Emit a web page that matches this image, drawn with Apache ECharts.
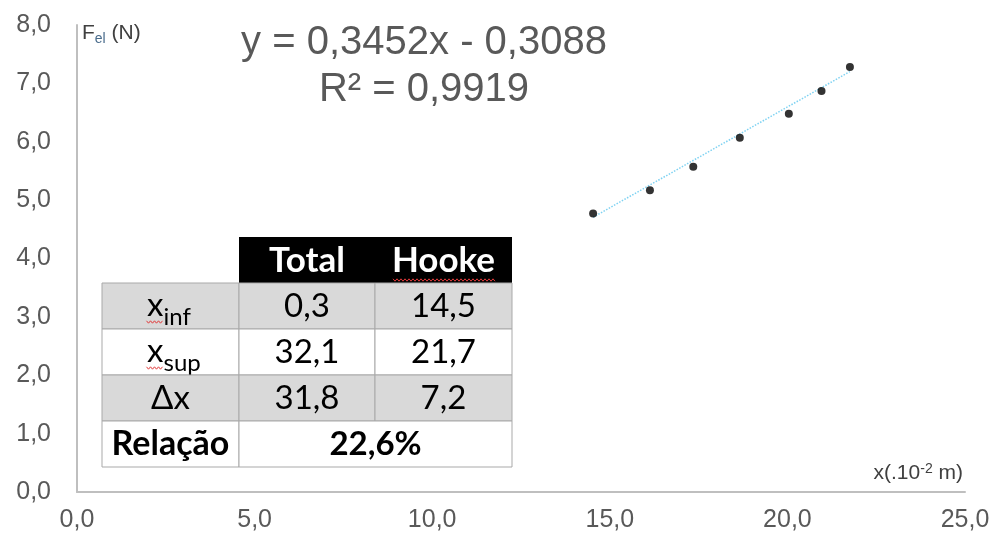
<!DOCTYPE html>
<html><head><meta charset="utf-8">
<script src="https://cdn.jsdelivr.net/npm/echarts@6/dist/echarts.min.js"></script>
<style>html,body{margin:0;padding:0;background:#fff}#c{width:998px;height:538px}</style>
</head><body><div id="c"></div>
<script>
// ---- data ----
const xValues = [14.53, 16.13, 17.35, 18.66, 20.04, 20.96, 21.76];
const yValues = [4.77, 5.17, 5.57, 6.07, 6.48, 6.87, 7.28];
const trendSlope = 0.3452;
const trendIntercept = -0.3088;
const eqLine1 = 'y = 0,3452x - 0,3088';
const eqLine2 = 'R² = 0,9919';
const xAxisMin = 0, xAxisMax = 25, xAxisStep = 5;
const yAxisMin = 0, yAxisMax = 8, yAxisStep = 1;
const tableHeader = ['Total', 'Hooke'];
const rowMain = ['x', 'x', 'Δx', 'Relação'];
const rowSub = ['inf', 'sup', '', ''];
const totalValues = ['0,3', '32,1', '31,8'];
const hookeValues = ['14,5', '21,7', '7,2'];
const relacao = '22,6%';

// ---- helpers ----
const fmt = v => v.toFixed(1).replace('.', ',');
const scatterData = xValues.map((x, i) => [x, yValues[i]]);
const tx0 = Math.min(...xValues), tx1 = Math.max(...xValues);
const trendData = [[tx0, trendSlope * tx0 + trendIntercept], [tx1, trendSlope * tx1 + trendIntercept]];

// ---- table graphics ----
const T = { left: 102, top: 237, colW: [137, 136, 137], headH: 46, rowH: 46 };
const colX = [T.left, T.left + T.colW[0], T.left + T.colW[0] + T.colW[1]];
const tableRight = colX[2] + T.colW[2];
const tFont = 'Lato, "Open Sans", sans-serif';
const g = [];
g.push({ type: 'rect', shape: { x: colX[1], y: T.top, width: tableRight - colX[1], height: T.headH }, style: { fill: '#000' } });
tableHeader.forEach((h, j) => g.push({ type: 'text', x: colX[j + 1] + T.colW[j + 1] / 2, y: T.top + T.headH / 2 + 1,
  style: { text: h, fill: '#fff', font: 'bold 35px ' + tFont, align: 'center', verticalAlign: 'middle' } }));
function zig(x0, x1, y) {
  const pts = []; let up = true;
  for (let x = x0; x <= x1; x += 2) { pts.push([x, up ? y - 1.2 : y + 1.2]); up = !up; }
  return { type: 'polyline', shape: { points: pts }, style: { stroke: '#e23b3b', lineWidth: 1, fill: null } };
}
g.push(zig(393, 496, 280));
for (let i = 0; i < 4; i++) {
  const y = T.top + T.headH + i * T.rowH;
  const fill = i % 2 === 0 ? '#d9d9d9' : '#ffffff';
  const stroke = '#a9a9a9';
  if (i < 3) {
    for (let j = 0; j < 3; j++) g.push({ type: 'rect', shape: { x: colX[j], y: y, width: T.colW[j], height: T.rowH }, style: { fill, stroke, lineWidth: 1 } });
  } else {
    g.push({ type: 'rect', shape: { x: colX[0], y: y, width: T.colW[0], height: T.rowH }, style: { fill, stroke, lineWidth: 1 } });
    g.push({ type: 'rect', shape: { x: colX[1], y: y, width: tableRight - colX[1], height: T.rowH }, style: { fill, stroke, lineWidth: 1 } });
  }
  const cy = y + T.rowH / 2;
  const cx0 = colX[0] + T.colW[0] / 2;
  if (rowSub[i]) {
    g.push({ type: 'text', x: cx0 - 7, y: cy - 1, style: { text: rowMain[i], fill: '#000', font: '33px ' + tFont, align: 'right', verticalAlign: 'middle' } });
    g.push({ type: 'text', x: cx0 - 7, y: cy + 11, style: { text: rowSub[i], fill: '#000', font: '24px ' + tFont, align: 'left', verticalAlign: 'middle' } });
    g.push(zig(cx0 - 24, cx0 - 7, cy + 16));
    g.push(zig(cx0 - 7, cx0 + (i === 0 ? 21 : 30), cy + 27));
  } else {
    g.push({ type: 'text', x: cx0, y: cy, style: { text: rowMain[i], fill: '#000', font: (i === 3 ? 'bold 34px ' : '33px ') + tFont, align: 'center', verticalAlign: 'middle' } });
  }
  if (i < 3) {
    g.push({ type: 'text', x: colX[1] + T.colW[1] / 2, y: cy, style: { text: totalValues[i], fill: '#000', font: '33px ' + tFont, align: 'center', verticalAlign: 'middle' } });
    g.push({ type: 'text', x: colX[2] + T.colW[2] / 2, y: cy, style: { text: hookeValues[i], fill: '#000', font: '33px ' + tFont, align: 'center', verticalAlign: 'middle' } });
  } else {
    g.push({ type: 'text', x: (colX[1] + tableRight) / 2, y: cy, style: { text: relacao, fill: '#000', font: 'bold 33px ' + tFont, align: 'center', verticalAlign: 'middle' } });
  }
}
// equation
g.push({ type: 'text', x: 424, y: 43, style: { text: eqLine1, fill: '#595959', font: '40px "Liberation Sans", Arial, sans-serif', align: 'center', verticalAlign: 'middle' } });
g.push({ type: 'text', x: 424, y: 90, style: { text: eqLine2, fill: '#595959', font: '40px "Liberation Sans", Arial, sans-serif', align: 'center', verticalAlign: 'middle' } });

const labelStyle = { color: '#595959', fontSize: 25, fontFamily: '"Liberation Sans", Arial, sans-serif' };
const chart = echarts.init(document.getElementById('c'), null, { renderer: 'canvas' });
chart.setOption({
  animation: false,
  backgroundColor: '#fff',
  textStyle: { fontFamily: '"Liberation Sans", Arial, sans-serif' },
  grid: { left: 77, right: 33, top: 25, bottom: 46, containLabel: false },
  xAxis: {
    type: 'value', min: xAxisMin, max: xAxisMax, interval: xAxisStep,
    splitLine: { show: false }, axisTick: { show: false },
    axisLine: { show: true, onZero: false, lineStyle: { color: '#bfbfbf', width: 2 } },
    axisLabel: Object.assign({ margin: 16, formatter: v => fmt(v) }, labelStyle),
    name: 'x(.10{sup|-2}{n| m)}', nameLocation: 'end', nameGap: -2,
    nameTextStyle: { color: '#404040', fontSize: 21, align: 'right', verticalAlign: 'bottom', padding: [0, 0, 8, 0],
      rich: { sup: { fontSize: 14, verticalAlign: 'top', padding: [0, 0, 8, 0], color: '#404040' },
              n: { fontSize: 21, color: '#404040' } } }
  },
  yAxis: {
    type: 'value', min: yAxisMin, max: yAxisMax, interval: yAxisStep,
    splitLine: { show: false }, axisTick: { show: false },
    axisLine: { show: true, onZero: false, lineStyle: { color: '#bfbfbf', width: 2 } },
    axisLabel: Object.assign({ margin: 26, formatter: v => fmt(v) }, labelStyle),
    name: 'F{sub|el} (N)', nameLocation: 'end', nameGap: -8,
    nameTextStyle: { color: '#404040', fontSize: 21, align: 'left', verticalAlign: 'middle', padding: [0, 0, 0, 5],
      rich: { sub: { fontSize: 14, color: '#4a6c8c', padding: [12, 0, 0, 0] } } }
  },
  series: [
    { type: 'line', data: trendData, symbol: 'none', z: 2, silent: true,
      lineStyle: { color: '#7ed2f2', width: 1.5, type: 'dotted' } },
    { type: 'scatter', data: scatterData, symbol: 'circle', symbolSize: 8, z: 3,
      itemStyle: { color: '#000' } }
  ],
  graphic: g
});
</script></body></html>
